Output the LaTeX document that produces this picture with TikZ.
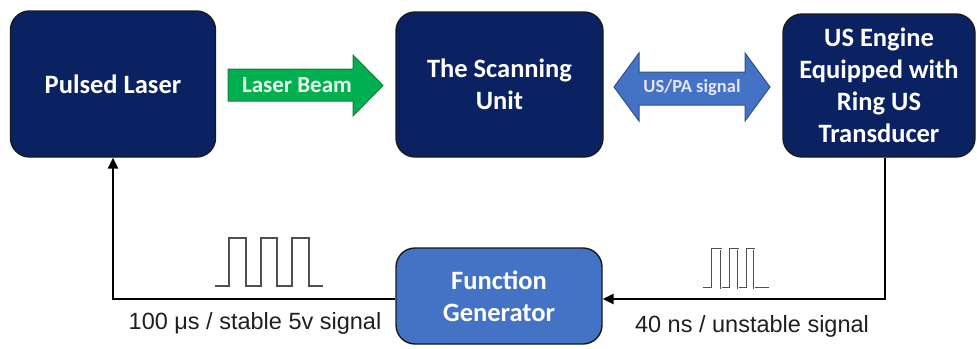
\documentclass[tikz,border=0pt]{standalone}
\usepackage{fontspec}
\setmainfont{Carlito}
\newfontfamily\plainsans{Liberation Sans}
\usetikzlibrary{arrows.meta}
\definecolor{navy}{HTML}{0B2262}
\definecolor{edge}{HTML}{1A1A1A}
\definecolor{fgblue}{HTML}{4472C4}
\definecolor{fgedge}{HTML}{2F528F}
\definecolor{beamgreen}{HTML}{00B050}
\definecolor{beamedge}{HTML}{1E7B3C}
\definecolor{pulsegray}{HTML}{505050}
\begin{document}
\begin{tikzpicture}[x=1pt,y=-1pt,
  block/.style={draw=edge,line width=1.4pt,fill=navy,rounded corners=19pt,
    text=white,align=center,inner sep=0pt,
    font=\fontsize{26.5}{32}\selectfont\bfseries},
  genblock/.style={block,fill=fgblue},
  link/.style={line width=2.8pt,draw=black,-{Triangle[length=11pt,width=10pt]}},
  pulse/.style={draw=pulsegray,line width=1.7pt,line join=miter},
  thinpulse/.style={draw=pulsegray,line width=0.7pt,double=white,double distance=0.9pt},
  caption/.style={font=\plainsans\fontsize{23.5}{28}\selectfont,text=black!88,inner sep=0pt},
  arrowtext/.style={text=white!92!green,font=\bfseries,inner sep=0pt}]
\useasboundingbox (0,0) rectangle (977,348);

% main blocks
\node[block,minimum width=205pt,minimum height=146pt] (laser) at (113,84) {Pulsed Laser};
\node[block,minimum width=207pt,minimum height=145pt] (scan) at (499.5,84.5) {The Scanning\\Unit};
\node[block,minimum width=192pt,minimum height=143pt] (us) at (879,85.5) {US Engine\\Equipped with\\Ring US\\Transducer};
\node[genblock,minimum width=206pt,minimum height=96pt] (fg) at (499,296) {Function\\Generator};

% laser beam block arrow
\draw[fill=beamgreen,draw=beamedge,line width=1pt,line join=miter]
  (228,69) -- (353,69) -- (353,55) -- (383,85.5) -- (353,116) -- (353,101) -- (228,101) -- cycle;
\node[arrowtext,font=\fontsize{23}{28}\selectfont\bfseries] (beam) at (297,85) {Laser Beam};

% two-way signal block arrow
\draw[fill=fgblue,draw=fgedge,line width=1pt,line join=miter]
  (614,87) -- (639,53) -- (639,72) -- (745,72) -- (745,53) -- (770,87)
  -- (745,121) -- (745,105) -- (639,105) -- (639,121) -- cycle;
\node[arrowtext,text=white!90!blue,font=\fontsize{18.5}{22}\selectfont\bfseries] (uspa) at (692,88) {US/PA signal};

% feedback loop through the function generator
\draw[link] ([yshift=-3pt]fg.west) -| (laser.south);
\draw[link] ([xshift=6pt]us.south) |- ([yshift=-3pt]fg.east);

% trigger waveforms
\draw[pulse] (215,286) -- (229,286) -- (229,238) -- (246,238) -- (246,286)
  -- (261,286) -- (261,238) -- (277,238) -- (277,286)
  -- (292,286) -- (292,238) -- (309,238) -- (309,286) -- (323,286);
\draw[thinpulse] (703,288) -- (712,288) -- (712,249) -- (721,249) -- (721,288)
  -- (730,288) -- (730,249) -- (738,249) -- (738,288)
  -- (747,288) -- (747,249) -- (754,249) -- (754,288) -- (769,288);

% signal captions
\node[caption] (slow) at (255,323) {100 μs / stable 5v signal};
\node[caption] (fast) at (752,326) {40 ns / unstable signal};
\end{tikzpicture}
\end{document}
